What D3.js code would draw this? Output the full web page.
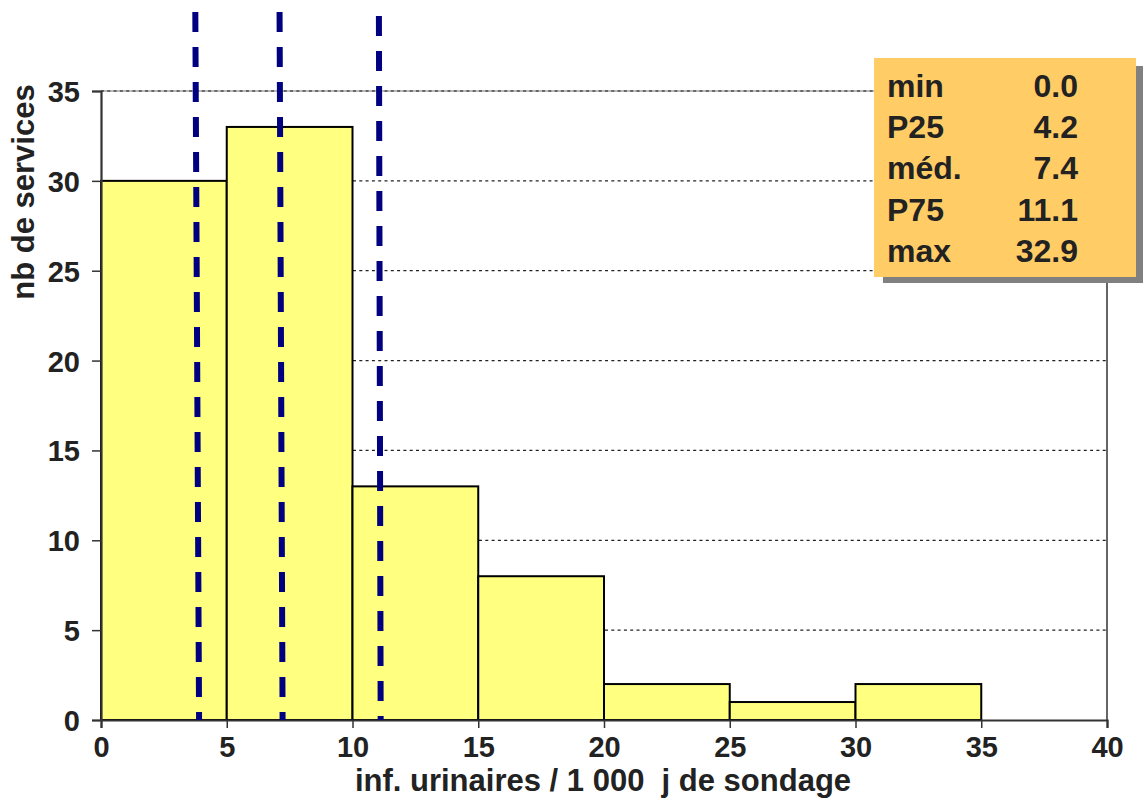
<!DOCTYPE html>
<html>
<head>
<meta charset="utf-8">
<script src="https://cdn.jsdelivr.net/npm/d3@7"></script>
<style>
  html, body { margin: 0; padding: 0; background: #fff; }
  svg text { font-family: "Liberation Sans", Arial, sans-serif; font-weight: bold; fill: #222; }
</style>
</head>
<body>
<svg id="chart" width="1143" height="801"></svg>
<script>
// ---- data ----
const binStarts = [0, 5, 10, 15, 20, 25, 30];
const binWidth = 5;
const counts = [30, 33, 13, 8, 2, 1, 2];
const xTicks = [0, 5, 10, 15, 20, 25, 30, 35, 40];
const yTicks = [0, 5, 10, 15, 20, 25, 30, 35];
// quartile dashed lines (x value at top and at bottom of each line, as drawn)
const quartTopX = [3.75, 7.1, 11.05];
const quartBottomX = [3.9, 7.22, 11.12];
const statLabels = ["min", "P25", "méd.", "P75", "max"];
const statValues = ["0.0", "4.2", "7.4", "11.1", "32.9"];
const xTitle = "inf. urinaires / 1 000\u00a0\u00a0j de sondage";
const yTitle = "nb de services";

// ---- layout ----
const svg = d3.select("#chart");
const x = d3.scaleLinear().domain([0, 40]).range([101, 1107]);
const y = d3.scaleLinear().domain([0, 35]).range([720, 91]);

// gridlines (dotted)
svg.append("g").selectAll("line").data(yTicks.filter(d => d > 0)).join("line")
  .attr("x1", x(0)).attr("x2", x(40))
  .attr("y1", d => y(d)).attr("y2", d => y(d))
  .attr("stroke", "#222").attr("stroke-width", 1.3).attr("stroke-dasharray", "3,3.3");

// plot border (top/right)
svg.append("line").attr("x1", x(0)).attr("x2", x(40)).attr("y1", y(35)).attr("y2", y(35))
  .attr("stroke", "#777").attr("stroke-width", 1);
svg.append("line").attr("x1", x(40)).attr("x2", x(40)).attr("y1", y(35)).attr("y2", y(0))
  .attr("stroke", "#333").attr("stroke-width", 1.5);

// bars
svg.append("g").selectAll("rect").data(binStarts).join("rect")
  .attr("x", (d) => x(d))
  .attr("width", d => x(d + binWidth) - x(d))
  .attr("y", (d, i) => y(counts[i]))
  .attr("height", (d, i) => y(0) - y(counts[i]))
  .attr("fill", "#ffff80").attr("stroke", "#000").attr("stroke-width", 2);

// axes
const yAxis = d3.axisLeft(y).tickValues(yTicks).tickSize(9).tickPadding(12).tickFormat(d3.format("d"));
const gy = svg.append("g").attr("transform", `translate(${x(0)},0)`).call(yAxis);
gy.select(".domain").attr("stroke", "#333").attr("stroke-width", 2.2);
gy.selectAll(".tick line").attr("stroke", "#333").attr("stroke-width", 1.5);
gy.selectAll(".tick text").attr("font-size", 29).attr("dy", "0.36em").attr("x", -21)
  .style("font-family", "'Liberation Sans', Arial, sans-serif").style("font-weight", "bold").attr("fill", "#222");

const xAxis = d3.axisBottom(x).tickValues(xTicks).tickSize(8).tickPadding(8).tickFormat(d3.format("d"));
const gx = svg.append("g").attr("transform", `translate(0,${y(0)})`).call(xAxis);
gx.select(".domain").attr("stroke", "#333").attr("stroke-width", 2.2);
gx.selectAll(".tick line").attr("stroke", "#333").attr("stroke-width", 1.5);
gx.selectAll(".tick text").attr("font-size", 29).attr("y", 37).attr("dy", null)
  .style("font-family", "'Liberation Sans', Arial, sans-serif").style("font-weight", "bold").attr("fill", "#222");

// quartile dashed lines
svg.append("g").selectAll("line").data(quartTopX).join("line")
  .attr("x1", d => x(d)).attr("x2", (d, i) => x(quartBottomX[i]))
  .attr("y1", (d, i) => i === 2 ? 16 : 12).attr("y2", y(0))
  .attr("stroke", "#000080").attr("stroke-width", 6).attr("stroke-dasharray", "20,15");

// axis titles
svg.append("text").attr("x", 603).attr("y", 791).attr("text-anchor", "middle")
  .attr("font-size", 31).text(xTitle);
svg.append("text").attr("transform", "translate(34,192) rotate(-90)").attr("text-anchor", "middle")
  .attr("font-size", 31).text(yTitle);

// stats box
const box = svg.append("g");
box.append("rect").attr("x", 883).attr("y", 66).attr("width", 260).attr("height", 217).attr("fill", "#808080");
box.append("rect").attr("x", 874).attr("y", 58).attr("width", 262).attr("height", 219).attr("fill", "#ffcc66");
box.selectAll("text.lab").data(statLabels).join("text").attr("class", "lab")
  .attr("x", 887).attr("y", (d, i) => 97 + i * 41.2).attr("font-size", 32).text(d => d);
box.selectAll("text.val").data(statValues).join("text").attr("class", "val")
  .attr("x", 1078).attr("y", (d, i) => 97 + i * 41.2).attr("text-anchor", "end").attr("font-size", 32).text(d => d);
</script>
</body>
</html>
